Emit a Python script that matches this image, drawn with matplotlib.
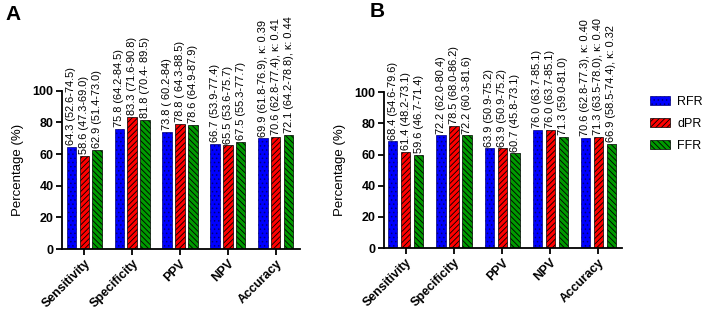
import numpy as np
import matplotlib.pyplot as plt
from matplotlib.patches import Patch

plt.rcParams['font.family'] = ['Liberation Sans', 'DejaVu Sans']
plt.rcParams['hatch.linewidth'] = 0.6

metrics = ['Sensitivity', 'Specificity', 'PPV', 'NPV', 'Accuracy']
methods = ['RFR', 'dPR', 'FFR']

a_rfr = [64.3, 75.8, 73.8, 66.7, 69.9]
a_dpr = [58.6, 83.3, 78.8, 65.5, 70.6]
a_ffr = [62.9, 81.8, 78.6, 67.5, 72.1]
a_rfr_lab = ['64.3 (52.6-74.5)', '75.8 (64.2-84.5)', '73.8 ( 60.2-84)', '66.7 (53.9-77.4)', '69.9 (61.8-76.9), κ: 0.39']
a_dpr_lab = ['58.6 (47.3-69.0)', '83.3 (71.6-90.8)', '78.8 ( 64.3-88.5)', '65.5 (53.6-75.7)', '70.6 (62.8-77.4), κ: 0.41']
a_ffr_lab = ['62.9 (51.4-73.0)', '81.8 (70.4- 89.5)', '78.6 (64.9-87.9)', '67.5 (55.3-77.7)', '72.1 (64.2-78.8), κ: 0.44']

b_rfr = [68.4, 72.2, 63.9, 76.0, 70.6]
b_dpr = [61.4, 78.5, 63.9, 76.0, 71.3]
b_ffr = [59.6, 72.2, 60.7, 71.3, 66.9]
b_rfr_lab = ['68.4 (54.6-79.6)', '72.2 (62.0-80.4)', '63.9 (50.9-75.2)', '76.0 (63.7-85.1)', '70.6 (62.8-77.3), κ: 0.40']
b_dpr_lab = ['61.4 (48.2-73.1)', '78.5 (68.0-86.2)', '63.9 (50.9-75.2)', '76.0 (63.7-85.1)', '71.3 (63.5-78.0), κ: 0.40']
b_ffr_lab = ['59.6 (46.7-71.4)', '72.2 (60.3-81.6)', '60.7 (45.8-73.1)', '71.3 (59.0-81.0)', '66.9 (58.5-74.4), κ: 0.32']

colors = ['#0000ff', '#ff0000', '#009a00']
hatches = ['....', '//////', '\\\\\\\\\\\\']
edges = ['#00007a', 'black', 'black']

fig = plt.figure(figsize=(7.08, 3.09), dpi=100)
axA = fig.add_axes([0.0876, 0.194, 0.336, 0.512])
axB = fig.add_axes([0.542, 0.197, 0.337, 0.505])


def panel(ax, vals, labs):
    x = np.arange(len(metrics))
    w = 0.19
    off = 0.27
    for i in range(3):
        bars = ax.bar(x + (i - 1) * off, vals[i], w, color=colors[i], hatch=hatches[i],
                      edgecolor=edges[i], linewidth=0.5)
        for b, t in zip(bars, labs[i]):
            ax.text(b.get_x() + b.get_width() / 2, b.get_height() + 1.2, t, rotation=90,
                    ha='center', va='bottom', fontsize=7.9, clip_on=False)
    ax.set_xlim(-0.46, 4.5)
    ax.set_ylim(0, 100)
    ax.set_yticks([0, 20, 40, 60, 80, 100])
    ax.set_xticks(x)
    ax.set_xticklabels(metrics, rotation=45, ha='right', rotation_mode='anchor',
                       fontsize=9, fontweight='bold')
    for t in ax.get_yticklabels():
        t.set_fontweight('bold')
        t.set_fontsize(9)
    ax.set_ylabel('Percentage (%)', fontsize=9.5, labelpad=6)
    ax.spines['top'].set_visible(False)
    ax.spines['right'].set_visible(False)
    ax.spines['left'].set_linewidth(1.3)
    ax.spines['bottom'].set_linewidth(1.3)
    ax.tick_params(width=1.3, length=4, pad=2)


panel(axA, [a_rfr, a_dpr, a_ffr], [a_rfr_lab, a_dpr_lab, a_ffr_lab])
panel(axB, [b_rfr, b_dpr, b_ffr], [b_rfr_lab, b_dpr_lab, b_ffr_lab])

fig.text(0.008, 0.985, 'A', fontsize=15, fontweight='bold', va='top')
fig.text(0.522, 0.995, 'B', fontsize=15, fontweight='bold', va='top')

handles = [Patch(facecolor=colors[i], hatch=hatches[i], edgecolor=edges[i], linewidth=0.5)
           for i in range(3)]
fig.legend(handles, methods, loc='upper left', bbox_to_anchor=(0.918, 0.69), frameon=False,
           fontsize=9, handlelength=1.6, handleheight=0.75, labelspacing=0.8,
           handletextpad=0.6, borderpad=0, borderaxespad=0)

fig.savefig('out.png', dpi=100)
